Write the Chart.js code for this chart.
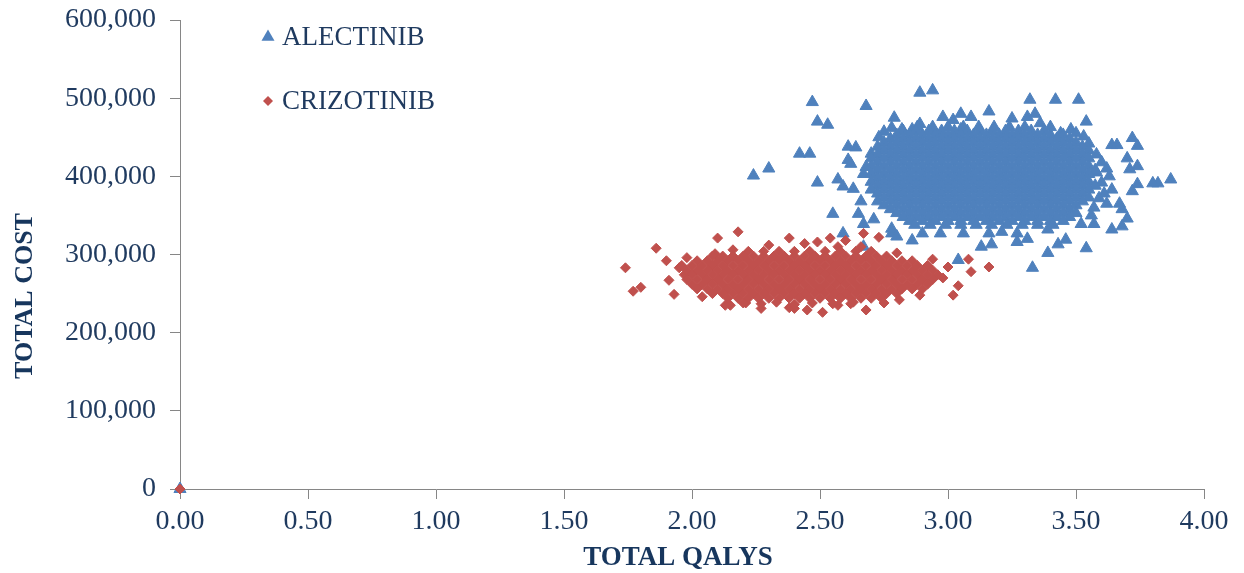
<!DOCTYPE html>
<html lang="en">
<head>
    <meta charset="UTF-8">
    <title>Total cost vs total QALYs</title>
    <script src="https://cdn.jsdelivr.net/npm/chart.js"></script>
    <style>
        body {
            margin: 0;
            background: #ffffff;
        }
        .chart-box {
            width: 1244px;
            height: 573px;
        }
    </style>
</head>
<body>
    <div class="chart-box">
        <canvas id="costChart"></canvas>
    </div>

    <script>
        const seriesNames = ['ALECTINIB', 'CRIZOTINIB'];
        const xTitle = 'TOTAL QALYS';
        const yTitle = 'TOTAL COST';
        const xTickLabels = ['0.00', '0.50', '1.00', '1.50', '2.00', '2.50', '3.00', '3.50', '4.00'];
        const yTickLabels = ['0', '100,000', '200,000', '300,000', '400,000', '500,000', '600,000'];

        // [total QALYs, total cost] per simulation
        const alectinibPoints = [
            [0, 0],
            // scattered outliers
            [2.47,495000],[2.68,490000],[2.49,470000],[2.53,466000],[2.42,429000],[2.46,429000],[2.24,401000],[2.30,410000],
            [2.49,392000],[2.55,352000],[2.59,327000],[2.89,507000],[2.94,510000],[2.79,475000],[3.32,498000],[3.42,498000],
            [3.51,498000],[3.54,470000],[3.72,449000],[3.74,439000],[3.64,440000],[3.66,440000],[3.87,396000],[3.82,391000],
            [3.80,391000],[3.74,390000],[3.72,381000],[3.67,365000],[3.68,358000],[3.70,346000],[3.68,336000],[3.64,332000],
            [3.54,308000],[3.39,302000],[3.33,283000],[3.43,313000],[3.13,310000],[3.17,313000],[3.27,316000],[3.31,320000],
            [2.67,310000],[2.78,327000],[2.86,318000],[3.04,293000],
            // left edge
            [2.61,438000],[2.64,437000],[2.61,421000],[2.62,416000],[2.57,396000],[2.59,387000],[2.63,384000],[2.67,403000],
            [2.68,412000],[2.66,368000],[2.65,352000],[2.67,339000],[2.71,345000],[2.78,333000],[2.80,323000],[2.90,327000],
            [2.97,327000],[3.06,327000],[2.70,429000],[2.75,457000],[2.82,460000],[2.86,460000],[2.89,467000],[2.94,460000],
            [2.98,476000],[3.02,472000],[3.05,480000],[3.09,476000],[3.05,460000],[2.73,450000],[2.78,462000],
            // top and right edge
            [3.16,483000],[3.25,474000],[3.31,476000],[3.34,480000],[3.36,468000],[3.44,455000],[3.53,451000],[3.55,442000],
            [3.70,423000],[3.74,413000],[3.71,409000],[3.63,400000],[3.64,383000],[3.61,378000],[3.62,365000],[3.57,339000],
            [3.52,339000],[3.46,319000],[3.39,332000],[3.27,327000],[3.21,329000],[3.16,327000],[3.48,460000],[3.40,463000],
            [3.50,455000],[3.58,428000],[3.60,418000],[3.58,405000],[3.60,392000],[3.59,372000],[3.57,360000],[3.62,410000],
            [3.56,350000],
            // dense core
            [2.88,463000],[2.94,463000],[3.00,463000],[3.06,463000],[3.12,463000],[3.18,463000],[3.24,463000],[3.30,463000],
            [2.825,458000],[2.875,458000],[2.925,458000],[2.975,458000],[3.025,458000],[3.075,458000],[3.125,458000],[3.175,458000],[3.225,458000],[3.275,458000],[3.325,458000],[3.375,458000],
            [2.80,453000],[2.85,453000],[2.90,453000],[2.95,453000],[3.00,453000],[3.05,453000],[3.10,453000],[3.15,453000],[3.20,453000],[3.25,453000],[3.30,453000],[3.35,453000],[3.40,453000],[3.45,453000],
            [2.775,448000],[2.825,448000],[2.875,448000],[2.925,448000],[2.975,448000],[3.025,448000],[3.075,448000],[3.125,448000],[3.175,448000],[3.225,448000],[3.275,448000],[3.325,448000],[3.375,448000],[3.425,448000],[3.475,448000],
            [2.75,443000],[2.80,443000],[2.85,443000],[2.90,443000],[2.95,443000],[3.00,443000],[3.05,443000],[3.10,443000],[3.15,443000],[3.20,443000],[3.25,443000],[3.30,443000],[3.35,443000],[3.40,443000],[3.45,443000],[3.50,443000],
            [2.725,438000],[2.775,438000],[2.825,438000],[2.875,438000],[2.925,438000],[2.975,438000],[3.025,438000],[3.075,438000],[3.125,438000],[3.175,438000],[3.225,438000],[3.275,438000],[3.325,438000],[3.375,438000],[3.425,438000],[3.475,438000],[3.525,438000],
            [2.75,433000],[2.80,433000],[2.85,433000],[2.90,433000],[2.95,433000],[3.00,433000],[3.05,433000],[3.10,433000],[3.15,433000],[3.20,433000],[3.25,433000],[3.30,433000],[3.35,433000],[3.40,433000],[3.45,433000],[3.50,433000],[3.55,433000],
            [2.725,428000],[2.775,428000],[2.825,428000],[2.875,428000],[2.925,428000],[2.975,428000],[3.025,428000],[3.075,428000],[3.125,428000],[3.175,428000],[3.225,428000],[3.275,428000],[3.325,428000],[3.375,428000],[3.425,428000],[3.475,428000],[3.525,428000],
            [2.70,423000],[2.75,423000],[2.80,423000],[2.85,423000],[2.90,423000],[2.95,423000],[3.00,423000],[3.05,423000],[3.10,423000],[3.15,423000],[3.20,423000],[3.25,423000],[3.30,423000],[3.35,423000],[3.40,423000],[3.45,423000],[3.50,423000],[3.55,423000],
            [2.725,418000],[2.775,418000],[2.825,418000],[2.875,418000],[2.925,418000],[2.975,418000],[3.025,418000],[3.075,418000],[3.125,418000],[3.175,418000],[3.225,418000],[3.275,418000],[3.325,418000],[3.375,418000],[3.425,418000],[3.475,418000],[3.525,418000],
            [2.70,413000],[2.75,413000],[2.80,413000],[2.85,413000],[2.90,413000],[2.95,413000],[3.00,413000],[3.05,413000],[3.10,413000],[3.15,413000],[3.20,413000],[3.25,413000],[3.30,413000],[3.35,413000],[3.40,413000],[3.45,413000],[3.50,413000],[3.55,413000],
            [2.725,408000],[2.775,408000],[2.825,408000],[2.875,408000],[2.925,408000],[2.975,408000],[3.025,408000],[3.075,408000],[3.125,408000],[3.175,408000],[3.225,408000],[3.275,408000],[3.325,408000],[3.375,408000],[3.425,408000],[3.475,408000],[3.525,408000],[3.575,408000],
            [2.70,403000],[2.75,403000],[2.80,403000],[2.85,403000],[2.90,403000],[2.95,403000],[3.00,403000],[3.05,403000],[3.10,403000],[3.15,403000],[3.20,403000],[3.25,403000],[3.30,403000],[3.35,403000],[3.40,403000],[3.45,403000],[3.50,403000],[3.55,403000],
            [2.725,398000],[2.775,398000],[2.825,398000],[2.875,398000],[2.925,398000],[2.975,398000],[3.025,398000],[3.075,398000],[3.125,398000],[3.175,398000],[3.225,398000],[3.275,398000],[3.325,398000],[3.375,398000],[3.425,398000],[3.475,398000],[3.525,398000],
            [2.70,393000],[2.75,393000],[2.80,393000],[2.85,393000],[2.90,393000],[2.95,393000],[3.00,393000],[3.05,393000],[3.10,393000],[3.15,393000],[3.20,393000],[3.25,393000],[3.30,393000],[3.35,393000],[3.40,393000],[3.45,393000],[3.50,393000],[3.55,393000],
            [2.725,388000],[2.775,388000],[2.825,388000],[2.875,388000],[2.925,388000],[2.975,388000],[3.025,388000],[3.075,388000],[3.125,388000],[3.175,388000],[3.225,388000],[3.275,388000],[3.325,388000],[3.375,388000],[3.425,388000],[3.475,388000],[3.525,388000],[3.575,388000],
            [2.70,383000],[2.75,383000],[2.80,383000],[2.85,383000],[2.90,383000],[2.95,383000],[3.00,383000],[3.05,383000],[3.10,383000],[3.15,383000],[3.20,383000],[3.25,383000],[3.30,383000],[3.35,383000],[3.40,383000],[3.45,383000],[3.50,383000],[3.55,383000],
            [2.725,378000],[2.775,378000],[2.825,378000],[2.875,378000],[2.925,378000],[2.975,378000],[3.025,378000],[3.075,378000],[3.125,378000],[3.175,378000],[3.225,378000],[3.275,378000],[3.325,378000],[3.375,378000],[3.425,378000],[3.475,378000],[3.525,378000],
            [2.75,373000],[2.80,373000],[2.85,373000],[2.90,373000],[2.95,373000],[3.00,373000],[3.05,373000],[3.10,373000],[3.15,373000],[3.20,373000],[3.25,373000],[3.30,373000],[3.35,373000],[3.40,373000],[3.45,373000],[3.50,373000],[3.55,373000],
            [2.725,368000],[2.775,368000],[2.825,368000],[2.875,368000],[2.925,368000],[2.975,368000],[3.025,368000],[3.075,368000],[3.125,368000],[3.175,368000],[3.225,368000],[3.275,368000],[3.325,368000],[3.375,368000],[3.425,368000],[3.475,368000],[3.525,368000],
            [2.75,363000],[2.80,363000],[2.85,363000],[2.90,363000],[2.95,363000],[3.00,363000],[3.05,363000],[3.10,363000],[3.15,363000],[3.20,363000],[3.25,363000],[3.30,363000],[3.35,363000],[3.40,363000],[3.45,363000],[3.50,363000],
            [2.775,358000],[2.825,358000],[2.875,358000],[2.925,358000],[2.975,358000],[3.025,358000],[3.075,358000],[3.125,358000],[3.175,358000],[3.225,358000],[3.275,358000],[3.325,358000],[3.375,358000],[3.425,358000],[3.475,358000],
            [2.80,353000],[2.85,353000],[2.90,353000],[2.95,353000],[3.00,353000],[3.05,353000],[3.10,353000],[3.15,353000],[3.20,353000],[3.25,353000],[3.30,353000],[3.35,353000],[3.40,353000],[3.45,353000],[3.50,353000],
            [2.825,348000],[2.875,348000],[2.925,348000],[2.975,348000],[3.025,348000],[3.075,348000],[3.125,348000],[3.175,348000],[3.225,348000],[3.275,348000],[3.325,348000],[3.375,348000],[3.425,348000],[3.475,348000],
            [2.85,343000],[2.90,343000],[2.95,343000],[3.00,343000],[3.05,343000],[3.10,343000],[3.15,343000],[3.20,343000],[3.25,343000],[3.30,343000],[3.35,343000],[3.40,343000],[3.45,343000],
            [2.87,338000],[2.93,338000],[2.99,338000],[3.05,338000],[3.11,338000],[3.17,338000],[3.23,338000],[3.29,338000],[3.35,338000],[3.41,338000]
        ];

        const crizotinibPoints = [
            [0, 0],
            // scattered outliers
            [1.74,283000],[1.77,253000],[1.80,258000],[1.86,308000],[1.90,292000],[2.10,321000],[2.18,329000],[1.91,267000],
            [1.93,249000],[1.98,296000],[2.16,306000],[2.38,321000],[3.16,284000],[3.08,294000],[3.09,278000],[3.04,260000],
            [3.02,248000],[3.00,284000],[2.94,294000],[2.67,327000],[2.73,322000],[2.66,310000],[2.80,302000],[2.51,226000],
            [2.57,235000],[2.62,237000],[2.68,229000],[2.75,238000],[2.81,242000],[2.89,248000],[2.15,235000],[2.27,231000],
            [2.38,232000],[2.45,229000],[1.95,283000],[1.97,274000],[2.04,246000],[2.13,235000],[2.21,238000],[2.09,301000],
            [2.40,231000],[2.49,316000],[2.54,321000],[2.57,310000],[2.98,270000],[2.30,312000],[2.44,314000],[2.60,318000],
            // dense core
            [2.22,304000],[2.28,304000],[2.34,304000],[2.40,304000],[2.46,304000],[2.52,304000],[2.58,304000],[2.64,304000],[2.70,304000],
            [2.08,298000],[2.12,298000],[2.16,298000],[2.20,298000],[2.24,298000],[2.28,298000],[2.32,298000],[2.36,298000],[2.40,298000],[2.44,298000],[2.48,298000],[2.52,298000],[2.56,298000],[2.60,298000],[2.64,298000],[2.68,298000],[2.72,298000],[2.76,298000],
            [2.02,292000],[2.06,292000],[2.10,292000],[2.14,292000],[2.18,292000],[2.22,292000],[2.26,292000],[2.30,292000],[2.34,292000],[2.38,292000],[2.42,292000],[2.46,292000],[2.50,292000],[2.54,292000],[2.58,292000],[2.62,292000],[2.66,292000],[2.70,292000],[2.74,292000],[2.78,292000],[2.82,292000],[2.86,292000],
            [1.96,286000],[2.00,286000],[2.04,286000],[2.08,286000],[2.12,286000],[2.16,286000],[2.20,286000],[2.24,286000],[2.28,286000],[2.32,286000],[2.36,286000],[2.40,286000],[2.44,286000],[2.48,286000],[2.52,286000],[2.56,286000],[2.60,286000],[2.64,286000],[2.68,286000],[2.72,286000],[2.76,286000],[2.80,286000],[2.84,286000],[2.88,286000],[2.92,286000],
            [1.98,280000],[2.02,280000],[2.06,280000],[2.10,280000],[2.14,280000],[2.18,280000],[2.22,280000],[2.26,280000],[2.30,280000],[2.34,280000],[2.38,280000],[2.42,280000],[2.46,280000],[2.50,280000],[2.54,280000],[2.58,280000],[2.62,280000],[2.66,280000],[2.70,280000],[2.74,280000],[2.78,280000],[2.82,280000],[2.86,280000],[2.90,280000],[2.94,280000],
            [2.00,274000],[2.04,274000],[2.08,274000],[2.12,274000],[2.16,274000],[2.20,274000],[2.24,274000],[2.28,274000],[2.32,274000],[2.36,274000],[2.40,274000],[2.44,274000],[2.48,274000],[2.52,274000],[2.56,274000],[2.60,274000],[2.64,274000],[2.68,274000],[2.72,274000],[2.76,274000],[2.80,274000],[2.84,274000],[2.88,274000],[2.92,274000],[2.96,274000],
            [1.98,268000],[2.02,268000],[2.06,268000],[2.10,268000],[2.14,268000],[2.18,268000],[2.22,268000],[2.26,268000],[2.30,268000],[2.34,268000],[2.38,268000],[2.42,268000],[2.46,268000],[2.50,268000],[2.54,268000],[2.58,268000],[2.62,268000],[2.66,268000],[2.70,268000],[2.74,268000],[2.78,268000],[2.82,268000],[2.86,268000],[2.90,268000],[2.94,268000],
            [2.00,262000],[2.04,262000],[2.08,262000],[2.12,262000],[2.16,262000],[2.20,262000],[2.24,262000],[2.28,262000],[2.32,262000],[2.36,262000],[2.40,262000],[2.44,262000],[2.48,262000],[2.52,262000],[2.56,262000],[2.60,262000],[2.64,262000],[2.68,262000],[2.72,262000],[2.76,262000],[2.80,262000],[2.84,262000],[2.88,262000],[2.92,262000],
            [2.02,256000],[2.06,256000],[2.10,256000],[2.14,256000],[2.18,256000],[2.22,256000],[2.26,256000],[2.30,256000],[2.34,256000],[2.38,256000],[2.42,256000],[2.46,256000],[2.50,256000],[2.54,256000],[2.58,256000],[2.62,256000],[2.66,256000],[2.70,256000],[2.74,256000],[2.78,256000],[2.82,256000],[2.86,256000],[2.90,256000],
            [2.08,250000],[2.12,250000],[2.16,250000],[2.20,250000],[2.24,250000],[2.28,250000],[2.32,250000],[2.36,250000],[2.40,250000],[2.44,250000],[2.48,250000],[2.52,250000],[2.56,250000],[2.60,250000],[2.64,250000],[2.68,250000],[2.72,250000],[2.76,250000],[2.80,250000],
            [2.14,244000],[2.18,244000],[2.22,244000],[2.26,244000],[2.30,244000],[2.34,244000],[2.38,244000],[2.42,244000],[2.46,244000],[2.50,244000],[2.54,244000],[2.58,244000],[2.62,244000],[2.66,244000],[2.70,244000],[2.74,244000],
            [2.20,238000],[2.27,237000],[2.33,239000],[2.40,236000],[2.47,238000],[2.55,237000],[2.63,239000]
        ];

        const blue = '#4f81bd';
        const red = '#c0504d';
        const axisGrey = '#868686';
        const tickColor = '#1f3a5f';
        const titleColor = '#17365d';
        const serif = '"Liberation Serif", "Times New Roman", serif';

        // legend inside the plot and the two axis titles
        const overlayPlugin = {
            id: 'overlay',
            afterDraw(chart) {
                const { ctx, chartArea } = chart;
                ctx.save();

                chart.data.datasets.forEach((ds, i) => {
                    const mx = chartArea.left + 88;
                    const my = chartArea.top + 17 + i * 64;
                    ctx.fillStyle = ds.pointBackgroundColor;
                    ctx.beginPath();
                    if (ds.pointStyle === 'triangle') {
                        const r = 7.5;
                        ctx.moveTo(mx, my - r);
                        ctx.lineTo(mx + r * 0.866, my + r / 2);
                        ctx.lineTo(mx - r * 0.866, my + r / 2);
                    } else {
                        const r = 5;
                        ctx.moveTo(mx - r, my);
                        ctx.lineTo(mx, my - r);
                        ctx.lineTo(mx + r, my);
                        ctx.lineTo(mx, my + r);
                    }
                    ctx.closePath();
                    ctx.fill();

                    ctx.fillStyle = tickColor;
                    ctx.font = '27px ' + serif;
                    ctx.textAlign = 'left';
                    ctx.textBaseline = 'middle';
                    ctx.fillText(ds.label, mx + 14, my + 1);
                });

                ctx.fillStyle = titleColor;
                ctx.font = 'bold 27px ' + serif;
                ctx.textAlign = 'center';
                ctx.textBaseline = 'middle';
                ctx.fillText(xTitle, chartArea.left + 498, chartArea.bottom + 69);

                ctx.translate(25, chartArea.top + 276);
                ctx.rotate(-Math.PI / 2);
                ctx.font = 'bold 26px ' + serif;
                ctx.fillText(yTitle, 0, 0);
                ctx.restore();
            }
        };

        const ctx = document.getElementById('costChart').getContext('2d');

        const costChart = new Chart(ctx, {
            type: 'scatter',
            data: {
                datasets: [{
                    label: seriesNames[0],
                    data: alectinibPoints.map(([x, y]) => ({ x, y })),
                    pointStyle: 'triangle',
                    pointRadius: 7,
                    pointBorderWidth: 1,
                    pointBackgroundColor: blue,
                    pointBorderColor: blue,
                    clip: false,
                    order: 2
                }, {
                    label: seriesNames[1],
                    data: crizotinibPoints.map(([x, y]) => ({ x, y })),
                    pointStyle: 'rectRot',
                    pointRadius: 5,
                    pointBorderWidth: 1,
                    pointBackgroundColor: red,
                    pointBorderColor: red,
                    clip: false,
                    order: 1
                }]
            },
            options: {
                responsive: true,
                maintainAspectRatio: false,
                animation: false,
                layout: {
                    padding: { top: 20, right: 40, bottom: 0, left: 0 }
                },
                plugins: {
                    legend: { display: false },
                    tooltip: { enabled: false }
                },
                scales: {
                    x: {
                        type: 'linear',
                        min: 0,
                        max: 4,
                        afterFit: (scale) => { scale.height = 84; },
                        ticks: {
                            stepSize: 0.5,
                            padding: 6,
                            color: tickColor,
                            font: { family: serif, size: 28 },
                            maxRotation: 0,
                            callback: (value, index) => xTickLabels[index]
                        },
                        grid: {
                            drawOnChartArea: false,
                            drawTicks: true,
                            tickLength: 10,
                            color: axisGrey
                        },
                        border: { color: axisGrey, width: 1 }
                    },
                    y: {
                        type: 'linear',
                        min: 0,
                        max: 600000,
                        afterFit: (scale) => {
                            scale.width = 180;
                            scale.paddingTop = 0;
                            scale.paddingBottom = 0;
                        },
                        ticks: {
                            stepSize: 100000,
                            padding: 14,
                            color: tickColor,
                            font: { family: serif, size: 28 },
                            callback: (value, index) => yTickLabels[index]
                        },
                        grid: {
                            drawOnChartArea: false,
                            drawTicks: true,
                            tickLength: 10,
                            color: axisGrey
                        },
                        border: { color: axisGrey, width: 1 }
                    }
                }
            },
            plugins: [overlayPlugin]
        });
    </script>
</body>
</html>
